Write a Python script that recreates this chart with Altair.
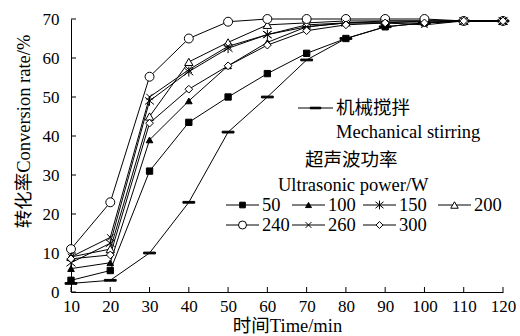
import altair as alt
import pandas as pd

# ---- data ----
times = [10, 20, 30, 40, 50, 60, 70, 80, 90, 100, 110, 120]
series_names = ["机械搅拌", "50", "100", "150", "200", "240", "260", "300"]
mech = [2.2, 3, 10, 23, 41, 50, 59.5, 65, 68, 69, 69.5, 69.5]
p50 = [3, 5.5, 31, 43.5, 50, 56, 61.2, 65, 68, 69, 69.5, 69.5]
p100 = [6, 7.5, 39, 49, 58, 64, 68, 69, 69, 69.5, 69.5, 69.5]
p150 = [7.5, 12.5, 49, 56.5, 62.5, 66, 68.5, 69, 69.5, 69.5, 69.5, 69.5]
p200 = [9, 11, 45, 59, 64, 68.5, 69, 69.5, 69.5, 69.5, 69.5, 69.5]
p240 = [11, 23, 55.2, 65, 69.3, 70, 70, 70, 70, 70, 69.5, 69.5]
p260 = [9, 14, 50, 57, 63, 66, 68, 69, 69, 68.5, 69.5, 69.5]
p300 = [8.5, 9.5, 43.3, 52, 58, 63.3, 67, 68.5, 69, 69, 69.5, 69.5]
series_values = [mech, p50, p100, p150, p200, p240, p260, p300]

x_ticks = [10, 20, 30, 40, 50, 60, 70, 80, 90, 100, 110, 120]
y_ticks = [0, 10, 20, 30, 40, 50, 60, 70]

# ---- styles ----
FONT = "Liberation Serif, Times New Roman, Noto Sans CJK SC"
FS = 17
TFS = 18.5
W, H = 432, 273

shape_map = {
    "机械搅拌": "M-1,-0.15L1,-0.15L1,0.15L-1,0.15Z",
    "50": "square",
    "100": "triangle-up",
    "150": "M-1,-0.8L1,0.8M-1,0.8L1,-0.8M0,-1.1L0,1.1",
    "200": "triangle-up",
    "240": "circle",
    "260": "M-0.8,-0.8L0.8,0.8M-0.8,0.8L0.8,-0.8",
    "300": "diamond",
}
fill_map = {"机械搅拌": "black", "50": "black", "100": "black", "150": "black",
            "200": "white", "240": "white", "260": "black", "300": "white"}
size_map = {"机械搅拌": 140, "50": 40, "100": 44, "150": 80, "200": 70,
            "240": 80, "260": 64, "300": 60}

rows = []
for name, vals in zip(series_names, series_values):
    for t, v in zip(times, vals):
        rows.append({"series": name, "time": t, "conv": v,
                     "sz": size_map[name]})
df = pd.DataFrame(rows)

xscale = alt.Scale(domain=[10, 120], nice=False, zero=False)
yscale = alt.Scale(domain=[0, 70], nice=False)

X = alt.X("time:Q", scale=xscale,
          axis=alt.Axis(values=x_ticks, title="时间Time/min", ticks=False,
                        labelPadding=6, titlePadding=2, grid=False,
                        labelOverlap=False, labelFlush=False))
Y = alt.Y("conv:Q", scale=yscale,
          axis=alt.Axis(values=y_ticks, title="转化率Conversion rate/%", ticks=False,
                        labelPadding=12, titlePadding=9, grid=False, titleY=112,
                        labelOverlap=False, labelFlush=False))

lines = alt.Chart(df).mark_line(color="black", strokeWidth=1).encode(
    x=X, y=Y, detail="series:N", order="time:Q")

points = alt.Chart(df).mark_point(filled=True, stroke="black", strokeWidth=1,
                                  opacity=1, fillOpacity=1).encode(
    x=X, y=Y,
    shape=alt.Shape("series:N", scale=alt.Scale(domain=series_names,
                    range=[shape_map[s] for s in series_names]), legend=None),
    fill=alt.Fill("series:N", scale=alt.Scale(domain=series_names,
                  range=[fill_map[s] for s in series_names]), legend=None),
    size=alt.Size("sz:Q", scale=None, legend=None),
)

# inward ticks
xt = alt.Chart(pd.DataFrame({"time": x_ticks})).mark_rule(color="black", strokeWidth=1).encode(
    x=X, y=alt.value(H - 5), y2=alt.value(H))
yt = alt.Chart(pd.DataFrame({"conv": y_ticks})).mark_rule(color="black", strokeWidth=1).encode(
    y=Y, x=alt.value(0), x2=alt.value(5))

# ---- custom legend ----
one = pd.DataFrame({"k": [0]})
legend_layers = []


def text_at(x, y, s):
    return alt.Chart(one).mark_text(text=s, align="left", baseline="middle",
                                    font=FONT, fontSize=TFS, color="black").encode(
        x=alt.value(x), y=alt.value(y))


def item(x0, y0, name, label, length=33):
    ln = alt.Chart(one).mark_rule(color="black", strokeWidth=1).encode(
        x=alt.value(x0), x2=alt.value(x0 + length), y=alt.value(y0))
    pt = alt.Chart(one).mark_point(shape=shape_map[name], size=size_map[name] * 0.8,
                                   filled=True, fill=fill_map[name], stroke="black",
                                   strokeWidth=1, opacity=1, fillOpacity=1).encode(
        x=alt.value(x0 + length / 2), y=alt.value(y0))
    out = [ln, pt]
    if label:
        out.append(text_at(x0 + length + 3, y0, label))
    return out


legend_layers += item(227, 89, "机械搅拌", "机械搅拌", length=35)
legend_layers.append(text_at(265, 113, "Mechanical stirring"))
legend_layers.append(text_at(234, 141, "超声波功率"))
legend_layers.append(text_at(207, 166, "Ultrasonic power/W"))

col_x = [155, 221, 292, 367]
row_y = [186, 206]
for i, name in enumerate(series_names[1:]):
    r, c = divmod(i, 4)
    legend_layers += item(col_x[c], row_y[r], name, name)

chart = alt.layer(lines, points, xt, yt, *legend_layers).properties(
    width=W, height=H,
    background="white",
    autosize=alt.AutoSizeParams(type="none"),
    padding={"left": 71, "top": 19, "right": 17, "bottom": 44},
).configure_view(stroke=None).configure_axis(
    domainColor="black", domainWidth=1, labelColor="black", titleColor="black",
    labelFont=FONT, titleFont=FONT, labelFontSize=FS, titleFontSize=TFS,
    titleFontWeight="normal",
)

chart.save("out.html", embed_options={"renderer": "svg", "actions": False})
